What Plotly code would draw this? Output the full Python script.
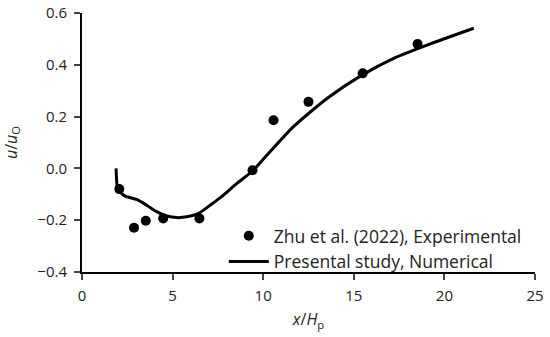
import plotly.graph_objects as go

# Experimental data (Zhu et al. 2022)
exp_x = [2.06, 2.87, 3.52, 4.48, 6.48, 9.41, 10.57, 12.5, 15.49, 18.52]
exp_y = [-0.08, -0.229, -0.202, -0.193, -0.193, -0.007, 0.186, 0.257, 0.367, 0.48]

# Numerical results (present study)
num_x = [1.88, 1.95, 2.1, 2.38, 3.02, 3.57, 4.12, 4.68, 5.23, 5.78, 6.43, 7.07,
         7.81, 8.55, 9.43, 10.0, 11.67, 13.52, 15.45, 17.2, 19.04, 21.62]
num_y = [0.0, -0.071, -0.09, -0.107, -0.12, -0.142, -0.167, -0.184, -0.19, -0.187,
         -0.174, -0.142, -0.103, -0.058, -0.009, 0.035, 0.161, 0.27, 0.36, 0.425,
         0.476, 0.541]

x_ticks = [0, 5, 10, 15, 20, 25]
y_ticks = [-0.4, -0.2, 0.0, 0.2, 0.4, 0.6]
y_ticklabels = ["\u22120.4", "\u22120.2", "0.0", "0.2", "0.4", "0.6"]

FONT = "Open Sans"

fig = go.Figure()
fig.add_trace(go.Scatter(
    x=exp_x, y=exp_y, mode="markers",
    name="Zhu et al. (2022), Experimental",
    marker=dict(color="black", size=10),
))
fig.add_trace(go.Scatter(
    x=num_x, y=num_y, mode="lines",
    name="Presental study, Numerical",
    line=dict(color="black", width=3, shape="spline", smoothing=0.6),
))

fig.update_layout(
    width=550, height=337, autosize=False,
    margin=dict(l=82, r=15, t=13, b=65, autoexpand=False),
    paper_bgcolor="white", plot_bgcolor="white",
    font=dict(family=FONT, size=15, color="#222"),
    showlegend=True, hovermode=False,
    legend=dict(
        x=0.313, y=0.209, xanchor="left", yanchor="top",
        bgcolor="rgba(0,0,0,0)", font=dict(size=17.5, family=FONT),
        tracegroupgap=0, itemwidth=40,
    ),
    xaxis=dict(
        range=[0, 25], tickvals=x_ticks, ticks="outside", ticklen=6, tickwidth=2,
        showline=True, linecolor="black", linewidth=2, showgrid=False, zeroline=False,
        tickfont=dict(size=15, family=FONT), automargin=False, ticklabelstandoff=3,
        title=dict(text="<i>x</i>/<i>H</i><sub>p</sub>", font=dict(size=16, family=FONT), standoff=10),
    ),
    yaxis=dict(
        range=[-0.4, 0.6], tickvals=y_ticks, ticktext=y_ticklabels, ticks="outside",
        ticklen=6, tickwidth=2, automargin=False, ticklabelstandoff=4,
        showline=True, linecolor="black", linewidth=2, showgrid=False, zeroline=False,
        tickfont=dict(size=15, family=FONT),
        title=dict(text="<i>u</i>/<i>u</i><sub>O</sub>", font=dict(size=16, family=FONT), standoff=17),
    ),
)

# remove the default page margin so the 550x337 figure fills the window exactly
fig.write_html("out.html", config={"displayModeBar": False, "staticPlot": True},
               post_script="document.body.style.margin='0';")
